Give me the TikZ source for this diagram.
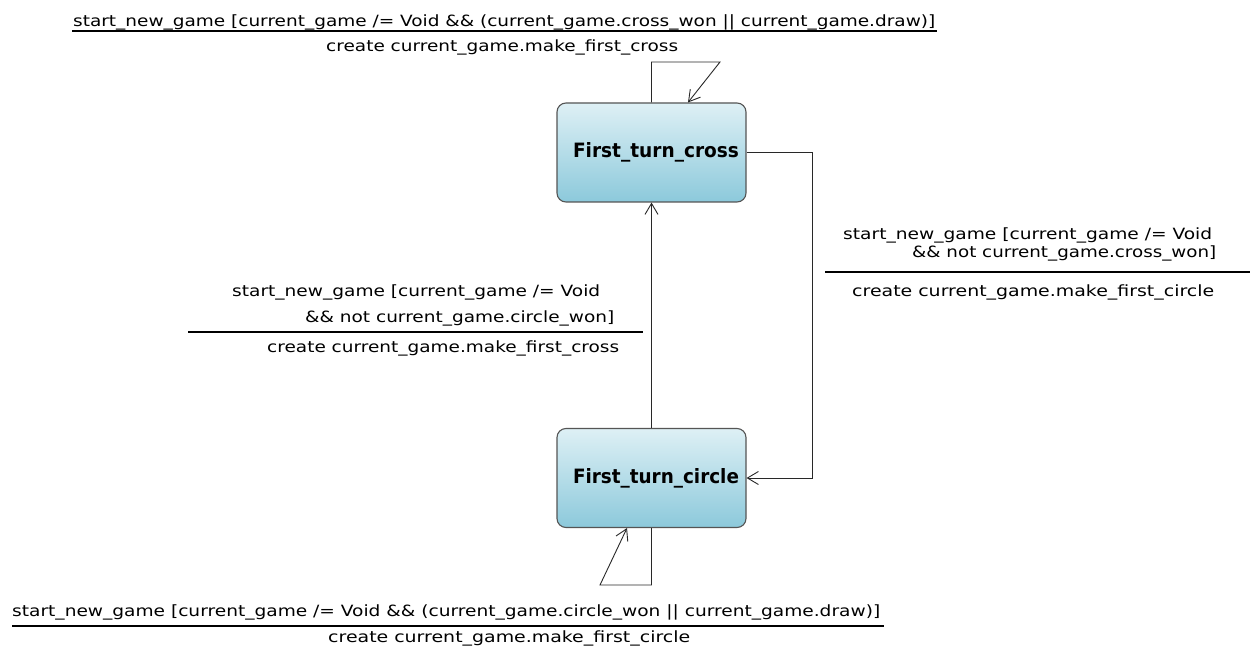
\documentclass[tikz,border=0pt]{standalone}
\usepackage{fontspec}
\setmainfont{DejaVu Sans}
\usepackage{graphicx}
\usetikzlibrary{arrows.meta}

\definecolor{statetop}{RGB}{222,240,245}
\definecolor{statebot}{RGB}{140,201,219}
\definecolor{stateedge}{RGB}{85,85,85}
\definecolor{wire}{RGB}{40,40,40}

% a label line: fixed width, natural height
\newcommand{\lblline}[2]{\resizebox{#1pt}{\height}{#2}}
% a state name: fixed width and cap height, set a little right of centre
\newcommand{\statename}[1]{\hspace{9pt}\resizebox{166pt}{15pt}{\fontsize{19}{22}\selectfont\bfseries #1}}

\tikzset{
  statebox/.style={draw=stateedge, line width=1.1pt, rounded corners=9pt,
    top color=statetop, bottom color=statebot,
    minimum width=189pt, minimum height=99pt, inner sep=0pt},
  lbl/.style={anchor=base west, inner sep=0pt, font=\fontsize{15.5}{18}\selectfont},
  sep/.style={line width=2pt, black},
  trans/.style={draw=wire, line width=0.9pt},
  tip/.style={-{Straight Barb[length=11pt,width=13pt,line width=0.9pt]}}
}

\begin{document}
\begin{tikzpicture}[x=1pt,y=-1pt]
\useasboundingbox[fill=white] (0,0) rectangle (1251,647);

% states
\node[statebox] (cross) at (651.5,152.5) {\statename{First\_turn\_cross}};
\node[statebox] (circle) at (651.5,478) {\statename{First\_turn\_circle}};

% corner points of the routed transitions
\coordinate (xl) at (651.5,62);
\coordinate (xr) at (720,62);
\coordinate (ol) at (600,585);
\coordinate (or) at (651.5,585);
\coordinate (rr) at (812,152.5);

% self transition on First_turn_cross
\draw[trans,tip] (cross.north) -- (xl) -- (xr) -- ([xshift=36.5pt]cross.north);
% self transition on First_turn_circle
\draw[trans,tip] (circle.south) -- (or) -- (ol) -- ([xshift=-24.5pt]circle.south);
% First_turn_cross -> First_turn_circle
\draw[trans,tip] (cross.east) -- (rr) |- (circle.east);
% First_turn_circle -> First_turn_cross
\draw[trans,tip] (circle.north) -- (cross.south);

% label of the cross self transition
\node[lbl] (t1) at (73,27) {\lblline{862}{start\_new\_game [current\_game /= Void \&\& (current\_game.cross\_won || current\_game.draw)]}};
\coordinate (t1a) at (72,31);
\coordinate (t1b) at (937,31);
\draw[sep] (t1a) -- (t1b);
\node[lbl] (t2) at (326,52) {\lblline{352}{create current\_game.make\_first\_cross}};

% label of cross -> circle
\node[lbl] (r1) at (843,240) {\lblline{369}{start\_new\_game [current\_game /= Void}};
\node[lbl] (r2) at (912,258) {\lblline{304}{\&\& not current\_game.cross\_won]}};
\coordinate (r1a) at (825,272);
\coordinate (r1b) at (1250,272);
\draw[sep] (r1a) -- (r1b);
\node[lbl] (r3) at (852,297) {\lblline{362}{create current\_game.make\_first\_circle}};

% label of circle -> cross
\node[lbl] (l1) at (232,297) {\lblline{368}{start\_new\_game [current\_game /= Void}};
\node[lbl] (l2) at (305,322) {\lblline{309}{\&\& not current\_game.circle\_won]}};
\coordinate (l1a) at (188,332);
\coordinate (l1b) at (643,332);
\draw[sep] (l1a) -- (l1b);
\node[lbl] (l3) at (267,352) {\lblline{352}{create current\_game.make\_first\_cross}};

% label of the circle self transition
\node[lbl] (b1) at (12,616) {\lblline{868}{start\_new\_game [current\_game /= Void \&\& (current\_game.circle\_won || current\_game.draw)]}};
\coordinate (b1a) at (12,626);
\coordinate (b1b) at (884,626);
\draw[sep] (b1a) -- (b1b);
\node[lbl] (b2) at (328,642) {\lblline{362}{create current\_game.make\_first\_circle}};
\end{tikzpicture}
\end{document}
